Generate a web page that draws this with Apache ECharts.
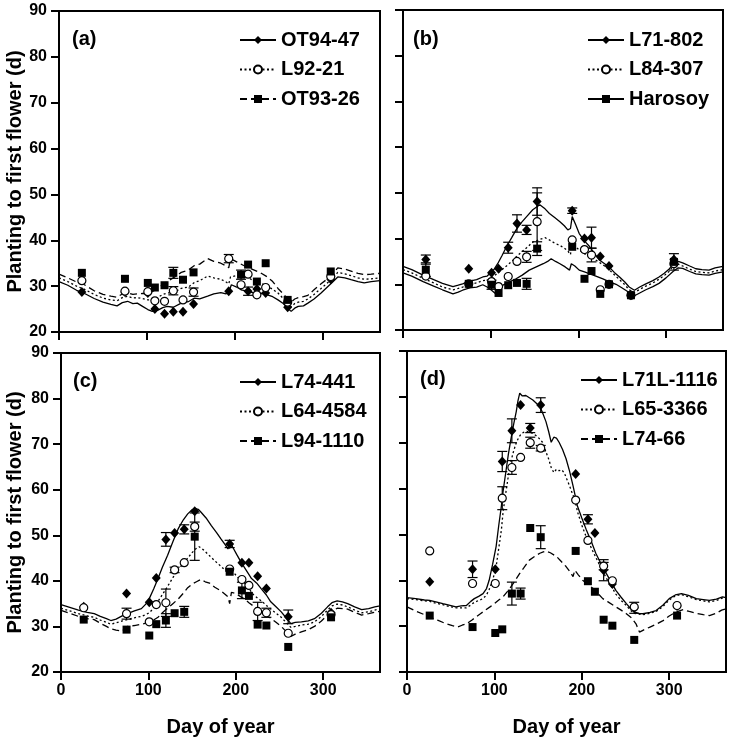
<!DOCTYPE html>
<html><head><meta charset="utf-8">
<script src="https://cdn.jsdelivr.net/npm/echarts@6/dist/echarts.min.js"></script>
<style>html,body{margin:0;padding:0;background:#fff}#c{width:734px;height:738px}</style>
</head><body><div id="c"></div>
<script>
// Sowing dates (day of year) shared by all panels
const days = [26, 75, 101, 109, 120, 130, 141, 153, 193, 207, 215, 225, 235, 260, 309];
const xTicks = [0, 100, 200, 300];

// ---- Panel (a)
const aNames = ['OT94-47', 'L92-21', 'OT93-26'];
const aObs1 = [28.7, 28.7, 28.5, 25.0, 24.0, 24.4, 24.4, 26.1, 28.9, 30.2, 28.9, 29.4, 28.5, 25.4, 31.5];
const aObs2 = [31.2, 28.9, 28.8, 26.8, 26.7, 29.0, 27.0, 28.7, 36.0, 30.3, 32.6, 28.1, 29.7, 26.5, 32.1];
const aObs3 = [32.9, 31.6, 30.7, 29.7, 30.2, 32.9, 31.4, 33.0, null, 32.5, 34.7, 31.0, 35.0, 27.0, 33.2];
const aErr1 = [0, 0, 0, 0, 0, 0, 0, 0, 0, 0, 0.9, 0, 0, 0, 0];
const aErr2 = [0, 0, 0, 0, 0, 0.9, 0, 0.9, 0.9, 0, 0, 0, 0, 0, 0];
const aErr3 = [0, 0, 0, 0, 0, 1.2, 0, 0, 0, 1.0, 0, 0, 0, 0, 0];
const aSim1 = [[0,31.0],[10,30.2],[20,29.1],[28,28.5],[40,27.3],[50,26.5],[59,26.0],[66,25.7],[72,26.4],[78,26.7],[84,26.2],[89,26.3],[95,25.6],[101,24.9],[106,24.5],[112,24.7],[118,25.3],[123,25.6],[130,25.4],[139,26.3],[147,26.6],[154,27.4],[160,27.2],[169,27.8],[176,28.3],[184,28.6],[190,28.3],[194,29.2],[196,30.3],[202,29.8],[207,29.2],[214,28.9],[222,28.5],[230,28.4],[237,28.1],[243,27.7],[249,27.0],[255,26.2],[260,25.2],[264,24.5],[268,25.2],[272,25.6],[278,25.7],[283,26.3],[290,27.2],[298,28.5],[304,29.6],[310,30.7],[317,32.0],[325,31.8],[332,31.4],[340,31.0],[347,30.7],[355,31.0],[365,31.2]];
const aSim2 = [[0,31.8],[10,31.0],[20,30.0],[28,29.4],[40,28.2],[50,27.4],[59,27.0],[66,26.8],[72,27.5],[78,27.8],[84,27.4],[89,27.5],[95,27.3],[101,27.0],[106,27.0],[112,27.5],[118,28.2],[123,28.5],[130,28.6],[139,29.5],[147,29.8],[154,30.8],[160,31.2],[169,32.2],[176,31.8],[184,31.5],[190,30.9],[193,30.5],[195,32.0],[202,32.3],[210,32.5],[216,31.8],[222,31.0],[230,30.6],[237,30.0],[243,29.3],[249,28.5],[255,27.3],[260,26.2],[264,25.5],[268,26.2],[272,26.5],[278,26.7],[283,27.2],[290,28.2],[298,29.5],[304,30.5],[310,31.5],[317,33.0],[325,32.7],[332,32.3],[340,31.8],[347,31.5],[355,31.6],[365,31.8]];
const aSim3 = [[0,32.6],[10,31.8],[20,30.9],[28,30.4],[40,29.0],[50,28.2],[59,27.8],[66,27.6],[72,28.3],[78,28.5],[84,28.2],[89,28.3],[95,28.4],[101,28.3],[106,28.8],[112,29.5],[118,30.3],[123,31.0],[130,31.8],[139,33.0],[147,33.5],[154,34.5],[160,34.8],[169,36.0],[176,35.4],[184,35.0],[190,34.4],[193,34.0],[195,36.0],[202,35.3],[210,34.5],[216,34.0],[222,33.5],[230,32.8],[237,32.0],[243,31.0],[249,29.5],[255,28.3],[260,27.2],[264,26.5],[268,27.2],[272,27.5],[278,27.7],[283,28.0],[290,29.2],[298,30.5],[304,31.4],[310,32.3],[317,34.0],[325,33.7],[332,33.3],[340,32.8],[347,32.5],[355,32.6],[365,32.8]];

// ---- Panel (b)
const bNames = ['L71-802', 'L84-307', 'Harosoy'];
const bObs1 = [35.4, 33.4, 32.5, 33.4, 38.0, 43.3, 41.9, 48.1, 46.1, 40.0, 40.2, 36.1, 34.0, 27.6, 35.4];
const bObs2 = [31.8, 30.1, 30.6, 29.5, 31.7, 35.0, 36.0, 43.7, 39.7, 37.6, 36.4, 28.8, 30.0, 27.6, 34.5];
const bObs3 = [33.2, 30.1, 29.9, 28.1, 29.8, 30.3, 30.1, 37.8, 38.2, 31.2, 32.9, 27.9, 30.0, 27.6, 34.9];
const bErr1 = [1.0, 0, 0, 0, 1.2, 1.9, 1.0, 3.0, 0.6, 0, 2.3, 0, 0, 0, 0];
const bErr2 = [0, 0, 0, 0, 0, 0, 1.2, 6.3, 0, 0, 1.5, 0, 0, 0, 0];
const bErr3 = [1.5, 0, 1.0, 0, 0, 0, 1.2, 1.5, 0, 0, 0, 0, 0, 0, 1.8];
const bSim1 = [[0,33.9],[10,33.2],[23,32.0],[35,31.0],[45,30.2],[57,29.5],[63,29.8],[68,30.1],[76,30.7],[84,31.0],[91,31.6],[96,31.8],[101,32.7],[104,33.3],[108,34.5],[113,36.3],[118,38.2],[124,40.2],[129,41.9],[135,43.5],[141,44.8],[148,46.3],[156,47.4],[162,46.5],[167,45.5],[173,44.6],[179,43.7],[184,42.8],[188,41.9],[191,42.2],[193,44.8],[197,43.0],[201,41.1],[207,39.5],[213,38.2],[219,36.6],[224,35.3],[230,34.5],[235,33.8],[241,32.6],[247,31.6],[253,30.5],[258,29.4],[264,28.7],[270,29.4],[277,30.1],[285,30.8],[292,31.6],[298,32.4],[304,33.4],[309,34.9],[314,35.0],[319,34.7],[327,34.0],[334,33.4],[341,33.2],[349,33.1],[356,33.6],[365,33.9]];
const bSim2 = [[0,33.2],[10,32.5],[23,31.3],[35,30.3],[45,29.4],[57,28.8],[63,29.1],[68,29.4],[76,30.0],[84,30.3],[91,30.8],[96,30.9],[101,31.4],[104,31.8],[108,32.5],[113,33.2],[118,34.0],[124,35.0],[129,36.0],[135,37.0],[141,38.0],[148,39.2],[156,39.8],[162,40.2],[167,39.7],[173,39.0],[179,38.5],[184,37.9],[188,37.3],[191,36.5],[193,39.0],[197,38.2],[201,37.5],[207,36.7],[213,36.0],[219,35.4],[224,34.8],[230,34.0],[235,33.2],[241,32.1],[247,31.0],[253,29.9],[258,28.8],[264,28.2],[270,28.9],[277,29.6],[285,30.3],[292,31.1],[298,31.9],[304,32.9],[309,34.3],[314,34.4],[319,34.0],[327,33.3],[334,32.8],[341,32.6],[349,32.5],[356,32.9],[365,33.2]];
const bSim3 = [[0,32.5],[10,31.8],[23,30.6],[35,29.6],[45,28.8],[57,27.9],[63,28.3],[68,28.7],[76,29.2],[84,29.4],[91,29.9],[96,29.4],[101,28.7],[106,27.9],[110,28.9],[114,29.8],[120,30.4],[129,31.2],[136,32.0],[144,33.1],[152,33.8],[160,34.5],[165,35.0],[169,35.6],[174,35.0],[179,34.5],[185,33.8],[190,33.1],[192,34.5],[196,34.0],[201,33.1],[207,32.7],[213,32.3],[220,31.8],[228,31.2],[235,30.6],[243,30.0],[250,29.2],[258,28.2],[264,27.5],[270,28.1],[277,28.8],[285,29.5],[292,30.2],[300,31.4],[308,32.8],[314,33.6],[319,33.5],[327,32.8],[334,32.3],[341,32.1],[349,32.0],[356,32.4],[365,32.7]];

// ---- Panel (c)
const cNames = ['L74-441', 'L64-4584', 'L94-1110'];
const cObs1 = [34.3, 37.2, 35.3, 40.6, 49.1, 50.5, 51.3, 55.3, 48.1, 44.0, 44.0, 41.0, 38.3, 32.1, 33.0];
const cObs2 = [34.1, 32.8, 31.0, 34.8, 35.2, 42.4, 44.0, 51.9, 42.6, 40.3, 39.0, 33.3, 33.0, 28.5, 32.6];
const cObs3 = [31.5, 29.3, 28.0, 30.5, 31.3, 32.9, 33.2, 49.7, 42.0, 37.9, 36.7, 30.4, 30.2, 25.5, 32.0];
const cErr1 = [0, 0, 0, 0, 1.5, 0, 1.0, 0, 0.8, 0, 0, 0, 0, 1.5, 0];
const cErr2 = [0, 1.2, 0, 0, 3.0, 0.6, 0, 1.0, 0, 0, 0, 2.0, 1.0, 0, 0];
const cErr3 = [0, 0, 0, 0, 1.5, 0, 1.2, 5.2, 0, 1.8, 0, 0, 0, 0, 0];
const cSim1 = [[0,34.8],[10,34.2],[20,33.6],[30,33.1],[38,32.8],[45,32.2],[52,31.7],[57,31.3],[63,31.6],[70,32.3],[76,32.8],[84,33.4],[92,33.9],[97,34.9],[101,36.1],[106,38.2],[111,40.5],[116,43.0],[122,45.6],[128,48.6],[134,51.4],[140,53.4],[145,54.7],[150,55.6],[153,55.9],[157,55.7],[160,55.1],[166,53.8],[172,52.1],[178,50.6],[183,49.2],[188,47.9],[191,47.0],[194,48.3],[197,47.2],[201,45.8],[206,44.1],[212,42.3],[218,40.5],[224,39.5],[229,38.3],[235,36.9],[240,35.4],[246,34.3],[252,33.2],[258,31.8],[263,30.6],[268,30.9],[275,31.0],[283,31.2],[290,31.7],[298,32.9],[305,34.3],[310,35.2],[316,35.6],[322,35.4],[328,35.0],[336,34.3],[344,33.7],[352,33.9],[359,34.3],[365,34.5]];
const cSim2 = [[0,34.0],[10,33.4],[20,32.8],[30,32.3],[38,32.0],[45,31.4],[52,30.9],[57,30.5],[63,30.8],[70,31.2],[76,31.5],[84,31.9],[92,32.2],[97,32.6],[101,33.0],[106,34.0],[111,35.5],[116,37.0],[122,38.8],[128,40.7],[134,42.5],[140,43.8],[145,45.0],[150,46.2],[154,47.0],[158,47.5],[163,46.8],[170,45.5],[176,44.4],[183,43.2],[188,42.3],[192,41.5],[194,42.2],[199,41.5],[204,40.4],[210,39.5],[215,38.3],[220,37.0],[225,36.2],[230,35.5],[235,34.6],[240,33.8],[246,32.9],[252,32.0],[258,30.8],[263,29.8],[268,30.0],[275,30.3],[283,30.5],[290,31.0],[298,32.2],[305,33.6],[310,34.5],[316,34.9],[322,34.7],[328,34.3],[336,33.6],[344,33.0],[352,33.2],[359,33.6],[365,33.8]];
const cSim3 = [[0,33.5],[10,32.9],[20,32.2],[30,31.7],[38,31.5],[45,30.7],[52,30.0],[57,29.5],[63,29.2],[70,29.0],[76,30.0],[84,30.2],[92,30.5],[97,30.7],[101,31.0],[106,31.4],[111,32.0],[116,33.0],[122,34.0],[128,35.0],[134,36.0],[140,37.3],[145,38.5],[150,39.3],[155,39.8],[160,40.3],[165,39.8],[170,39.5],[176,38.6],[183,37.8],[188,37.0],[191,36.5],[193,35.0],[195,37.5],[200,37.2],[205,36.6],[210,36.0],[215,35.2],[220,34.5],[225,33.7],[230,33.0],[235,32.4],[240,31.8],[246,30.9],[252,30.0],[258,28.8],[263,27.8],[268,28.3],[275,28.8],[283,29.3],[290,30.0],[298,31.2],[305,32.5],[310,33.3],[316,34.0],[322,33.9],[328,33.8],[336,33.1],[344,32.5],[352,32.8],[359,33.1],[365,33.3]];

// ---- Panel (d)
const dNames = ['L71L-1116', 'L65-3366', 'L74-66'];
const dObs1 = [39.7, 42.4, 42.4, 65.9, 72.6, 78.2, 73.2, 78.2, 63.2, 53.3, 50.3, 42.2, 39.2, 34.0, 34.4];
const dObs2 = [46.4, 39.3, 39.3, 57.9, 64.6, 66.8, 70.0, 68.8, 57.5, 48.7, null, 43.1, 39.9, 34.2, 34.5];
const dObs3 = [32.3, 29.8, 28.5, 29.3, 37.1, 37.1, 51.4, 49.4, 46.4, 39.8, 37.5, 31.4, 30.1, 27.0, 32.3];
const dErr1 = [0, 1.8, 0, 2.2, 2.6, 0, 1.0, 1.6, 0, 1.0, 0, 2.3, 0, 1.2, 0];
const dErr2 = [0, 0, 0, 2.5, 1.5, 0, 1.2, 0.6, 0, 0, 0, 0.8, 0, 0, 0];
const dErr3 = [0, 0, 0, 0, 2.5, 1.2, 0, 2.5, 0, 0, 0, 0, 0, 0, 0];
const dSim1 = [[0,36.2],[10,36.0],[20,35.7],[26,35.6],[33,35.3],[41,34.9],[48,34.6],[56,34.2],[62,34.4],[68,34.5],[73,35.4],[77,36.0],[82,36.5],[87,37.1],[91,38.2],[94,40.0],[98,43.5],[102,47.4],[105,52.0],[108,56.2],[110,59.5],[113,63.5],[116,67.5],[119,70.9],[122,74.0],[125,76.8],[127,79.2],[129,80.8],[132,80.2],[136,80.3],[140,79.8],[144,79.3],[148,78.6],[152,77.9],[155,76.6],[159,74.6],[162,72.5],[165,70.1],[168,71.2],[171,71.0],[174,70.1],[178,68.5],[182,66.5],[186,63.8],[190,60.6],[195,56.2],[200,53.6],[205,51.1],[211,48.4],[216,45.9],[222,43.6],[228,41.5],[234,39.5],[239,37.8],[245,36.3],[251,34.9],[256,33.8],[260,33.1],[265,32.8],[270,32.7],[278,33.0],[285,33.4],[293,34.6],[300,36.0],[307,36.8],[314,37.1],[322,36.7],[331,36.0],[339,35.8],[346,35.6],[354,35.9],[361,36.4],[365,36.2]];
const dSim2 = [[0,36.0],[10,35.8],[20,35.5],[26,35.4],[33,35.0],[41,34.7],[48,34.3],[56,34.0],[62,34.0],[68,34.0],[73,34.6],[77,35.2],[82,35.6],[87,36.0],[91,36.8],[94,38.0],[98,40.0],[102,43.0],[105,47.0],[108,51.0],[110,55.0],[113,59.0],[116,62.8],[119,66.0],[122,68.2],[125,70.0],[128,71.2],[131,72.0],[134,72.3],[137,72.5],[140,72.3],[144,72.0],[148,71.5],[152,70.8],[155,70.1],[159,68.0],[162,66.5],[165,64.6],[168,63.5],[171,64.2],[174,63.9],[177,64.1],[180,63.4],[183,62.0],[186,60.6],[189,59.0],[192,57.7],[195,55.0],[200,52.0],[205,49.5],[211,47.0],[216,45.0],[222,42.7],[228,40.5],[234,38.6],[239,37.0],[245,35.6],[251,34.5],[256,33.4],[260,32.8],[265,32.6],[270,32.5],[278,32.8],[285,33.2],[293,34.3],[300,35.7],[307,36.6],[314,36.9],[322,36.4],[331,35.8],[339,35.5],[346,35.3],[354,35.6],[361,36.1],[365,36.0]];
const dSim3 = [[0,34.2],[10,33.3],[20,32.5],[26,32.0],[35,31.3],[45,30.5],[52,30.1],[58,29.8],[63,30.2],[68,30.5],[74,31.3],[79,32.0],[84,32.7],[89,33.4],[95,34.2],[100,34.9],[105,35.7],[110,36.4],[115,37.6],[119,38.6],[124,40.0],[129,41.5],[134,42.8],[140,44.4],[146,45.2],[152,45.9],[156,46.2],[159,46.4],[164,46.0],[171,45.2],[176,44.2],[182,43.0],[186,42.0],[190,40.8],[192,42.2],[196,41.2],[201,40.0],[207,39.1],[213,38.2],[218,37.2],[224,36.0],[230,35.3],[239,34.2],[245,33.5],[251,32.7],[257,31.8],[262,30.5],[266,28.7],[271,29.2],[278,29.8],[285,30.4],[293,31.2],[300,32.2],[308,33.1],[316,33.6],[323,33.2],[331,32.8],[339,32.5],[346,32.3],[354,32.8],[360,33.5],[365,33.8]];

// ---------------- layout / style (not data) ----------------
const FONT = '"Liberation Sans", Arial, Helvetica, sans-serif';
const panels = [
  {label:'(a)', names:aNames, obs:[aObs1,aObs2,aObs3], err:[aErr1,aErr2,aErr3], sim:[aSim1,aSim2,aSim3], dash:['solid','dot','dash'],
   grid:{left:59, top:11, width:321, height:321}, leg:{left:239, top:30}, lab:{left:72, top:29}, showX:false, showY:true, nameGap:34},
  {label:'(b)', names:bNames, obs:[bObs1,bObs2,bObs3], err:[bErr1,bErr2,bErr3], sim:[bSim1,bSim2,bSim3], dash:['solid','dot','solid'],
   grid:{left:403, top:10, width:320, height:320}, leg:{left:587, top:30}, lab:{left:413, top:29}, showX:false, showY:false},
  {label:'(c)', names:cNames, obs:[cObs1,cObs2,cObs3], err:[cErr1,cErr2,cErr3], sim:[cSim1,cSim2,cSim3], dash:['solid','dot','dash'],
   grid:{left:61, top:353, width:319, height:320}, leg:{left:239, top:372}, lab:{left:73, top:371}, showX:true, showY:true, nameGap:36},
  {label:'(d)', names:dNames, obs:[dObs1,dObs2,dObs3], err:[dErr1,dErr2,dErr3], sim:[dSim1,dSim2,dSim3], dash:['solid','dot','dash'],
   grid:{left:407, top:351, width:319, height:321}, leg:{left:580, top:370}, lab:{left:420, top:369}, showX:true, showY:false}
];
const markers = [
  {symbol:'diamond', size:[9,10], itemStyle:{color:'#000', opacity:1}},
  {symbol:'circle', size:8, itemStyle:{color:'#fff', borderColor:'#000', borderWidth:1.2, opacity:1}},
  {symbol:'rect', size:8, itemStyle:{color:'#000', opacity:1}}
];
const dashTypes = {solid:'solid', dot:[2,2.5], dash:[7,4]};

const grids = [], xAxes = [], yAxes = [], series = [], legends = [], titles = [];
panels.forEach((p, i) => {
  grids.push(Object.assign({show:true, borderColor:'#000', borderWidth:2, backgroundColor:'transparent'}, p.grid));
  xAxes.push({
    gridIndex:i, type:'value', min:0, max:365,
    axisLine:{show:true, onZero:false, lineStyle:{color:'#000', width:2}},
    axisTick:{show:true, customValues:xTicks, length:8, lineStyle:{color:'#000', width:2}},
    axisLabel:{show:p.showX, customValues:xTicks, margin:11, color:'#000', fontSize:16, fontWeight:'bold', fontFamily:FONT},
    splitLine:{show:false},
    name: p.showX ? 'Day of year' : '', nameLocation:'middle', nameGap:45,
    nameTextStyle:{color:'#000', fontSize:20, fontWeight:'bold', fontFamily:FONT}
  });
  yAxes.push({
    gridIndex:i, type:'value', min:20, max:90, interval:10,
    axisLine:{show:true, onZero:false, lineStyle:{color:'#000', width:2}},
    axisTick:{show:true, length:8, lineStyle:{color:'#000', width:2}},
    axisLabel:{show:p.showY, margin:12, color:'#000', fontSize:16, fontWeight:'bold', fontFamily:FONT},
    splitLine:{show:false},
    name: p.showY ? 'Planting to first flower (d)' : '', nameLocation:'middle', nameRotate:90, nameGap:p.nameGap || 34,
    nameTextStyle:{color:'#000', fontSize:20, fontWeight:'bold', fontFamily:FONT}
  });
  titles.push({text:p.label, left:p.lab.left, top:p.lab.top, padding:0,
    textStyle:{color:'#000', fontSize:20, fontWeight:'bold', fontFamily:FONT}});
  legends.push({
    data:p.names, orient:'vertical', left:p.leg.left, top:p.leg.top, padding:0,
    itemWidth:36, itemHeight:10, itemGap:9.5, selectedMode:false,
    textStyle:{color:'#000', fontSize:20, fontWeight:'bold', fontFamily:FONT}
  });
  // simulated lines
  p.names.forEach((nm, k) => {
    series.push({
      type:'line', name:nm, xAxisIndex:i, yAxisIndex:i, data:p.sim[k],
      symbol:markers[k].symbol, symbolSize:markers[k].size, showSymbol:false,
      itemStyle:markers[k].itemStyle,
      lineStyle:{color:'#000', width:1.3, type:dashTypes[p.dash[k]]},
      silent:true, animation:false, z:1
    });
  });
  // error bars
  const eb = [];
  p.names.forEach((nm, k) => {
    days.forEach((d, j) => {
      const v = p.obs[k][j], e = p.err[k][j];
      if (v != null && e > 0) eb.push([d, v, e]);
    });
  });
  series.push({
    type:'custom', xAxisIndex:i, yAxisIndex:i, data:eb, encode:{x:0, y:1}, silent:true, animation:false, z:2,
    renderItem:function(params, api){
      const x = api.value(0), y = api.value(1), e = api.value(2);
      const p1 = api.coord([x, y + e]), p2 = api.coord([x, y - e]);
      const w = 5, st = {stroke:'#000', lineWidth:1.2};
      return {type:'group', children:[
        {type:'line', shape:{x1:p1[0], y1:p1[1], x2:p2[0], y2:p2[1]}, style:st},
        {type:'line', shape:{x1:p1[0]-w, y1:p1[1], x2:p1[0]+w, y2:p1[1]}, style:st},
        {type:'line', shape:{x1:p2[0]-w, y1:p2[1], x2:p2[0]+w, y2:p2[1]}, style:st}
      ]};
    }
  });
  // observations
  p.names.forEach((nm, k) => {
    const pts = [];
    days.forEach((d, j) => { if (p.obs[k][j] != null) pts.push([d, p.obs[k][j]]); });
    series.push({
      type:'scatter', name:nm, xAxisIndex:i, yAxisIndex:i, data:pts,
      symbol:markers[k].symbol, symbolSize:markers[k].size, itemStyle:markers[k].itemStyle,
      silent:true, animation:false, z:3
    });
  });
});

const chart = echarts.init(document.getElementById('c'), null, {renderer:'canvas'});
chart.setOption({
  backgroundColor:'#fff', animation:false,
  title:titles, legend:legends, grid:grids, xAxis:xAxes, yAxis:yAxes, series:series
});
</script></body></html>
